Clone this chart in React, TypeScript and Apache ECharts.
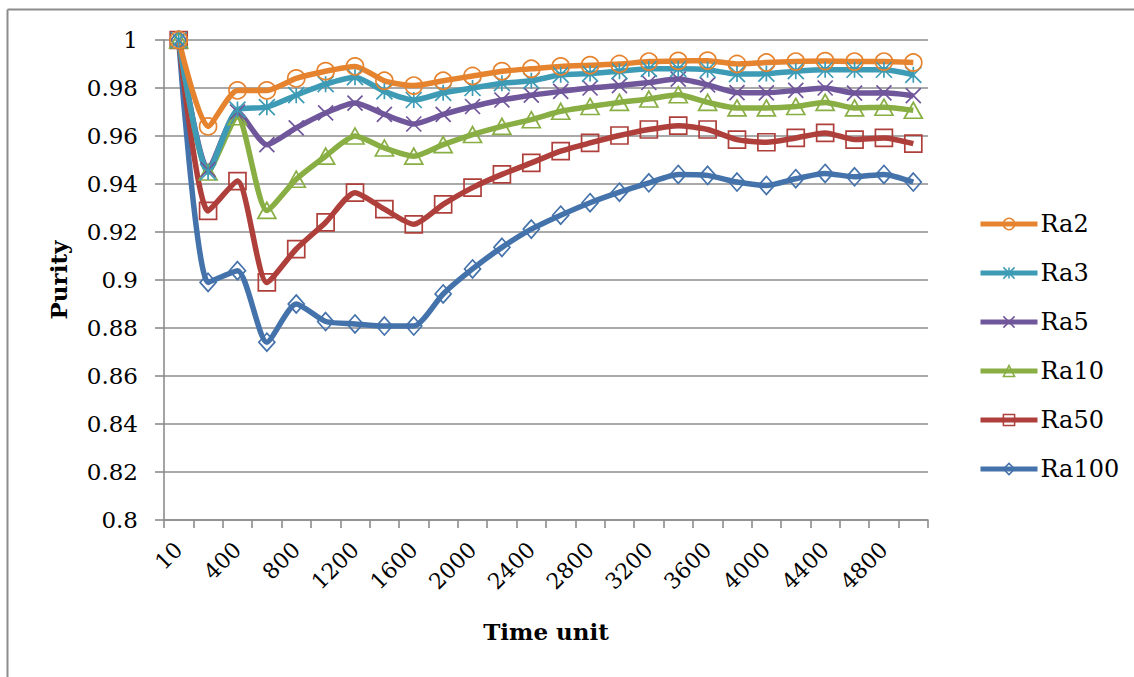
import React, { useEffect, useRef } from "react";
import * as echarts from "echarts";

const categories = ["10", "200", "400", "600", "800", "1000", "1200", "1400", "1600", "1800", "2000", "2200", "2400", "2600", "2800", "3000", "3200", "3400", "3600", "3800", "4000", "4200", "4400", "4600", "4800", "5000"];

const yTicksMin = 0.8;
const yTicksMax = 1;
const yTickStep = 0.02;

const ra2 = [1.0, 0.964, 0.979, 0.979, 0.984, 0.987, 0.989, 0.983, 0.981, 0.983, 0.985, 0.987, 0.988, 0.989, 0.9895, 0.990, 0.991, 0.9913, 0.9914, 0.990, 0.9906, 0.991, 0.9912, 0.991, 0.991, 0.9906];
const ra3 = [1.0, 0.945, 0.971, 0.972, 0.977, 0.9816, 0.9845, 0.9786, 0.975, 0.978, 0.980, 0.982, 0.983, 0.9855, 0.986, 0.987, 0.988, 0.988, 0.9876, 0.9858, 0.986, 0.987, 0.9876, 0.9876, 0.9876, 0.9855];
const ra5 = [1.0, 0.946, 0.970, 0.9564, 0.9634, 0.9696, 0.9737, 0.969, 0.965, 0.969, 0.9723, 0.975, 0.977, 0.9786, 0.980, 0.981, 0.9823, 0.9837, 0.9813, 0.9781, 0.978, 0.979, 0.980, 0.9779, 0.978, 0.9768];
const ra10 = [1.0, 0.945, 0.968, 0.929, 0.942, 0.9516, 0.960, 0.955, 0.9516, 0.9564, 0.9606, 0.964, 0.9668, 0.9703, 0.9723, 0.974, 0.9754, 0.9772, 0.974, 0.9717, 0.9717, 0.9723, 0.974, 0.9717, 0.972, 0.9707];
const ra50 = [1.0, 0.9288, 0.9412, 0.899, 0.9129, 0.924, 0.9364, 0.9295, 0.9232, 0.9315, 0.9385, 0.944, 0.9488, 0.9537, 0.9571, 0.9602, 0.9627, 0.9643, 0.9627, 0.9585, 0.9574, 0.9592, 0.9613, 0.9585, 0.9592, 0.9568];
const ra100 = [1.0, 0.899, 0.9039, 0.8741, 0.890, 0.8827, 0.8817, 0.8808, 0.8808, 0.8942, 0.9046, 0.9136, 0.9212, 0.927, 0.9322, 0.9366, 0.9405, 0.944, 0.9436, 0.9408, 0.9394, 0.9422, 0.9444, 0.943, 0.944, 0.9408];

const seriesNames = ["Ra2", "Ra3", "Ra5", "Ra10", "Ra50", "Ra100"];

const FONT = "DejaVu Serif";
const GRID_COLOR = "#8C8C8C";

export default function App() {
  const ref = useRef<HTMLDivElement>(null);

  useEffect(() => {
    if (!ref.current) return;
    const chart = echarts.init(ref.current, null, { renderer: "svg" });

    const mk = (name: string, data: number[], color: string, symbol: string, size: any) => ({
      name,
      type: "line",
      data,
      smooth: 0.22,
      symbol,
      symbolSize: size,
      showAllSymbol: true,
      lineStyle: { color, width: 5.5 },
      itemStyle: { color: "rgba(255,255,255,0)", borderColor: color, borderWidth: 1.7 },
      emphasis: { disabled: true },
    });

    const option: any = {
      animation: false,
      backgroundColor: "#ffffff",
      grid: { left: 164, right: 206, top: 40, bottom: 157, containLabel: false },
      legend: {
        orient: "vertical",
        left: 973,
        top: 207,
        itemWidth: 57,
        itemHeight: 14,
        itemGap: 25,
        data: seriesNames,
        lineStyle: { width: 5 },
        itemStyle: { borderWidth: 1.5 },
        textStyle: { fontFamily: FONT, fontSize: 24, color: "#000", padding: [0, 0, 0, -2] },
      },
      xAxis: {
        type: "category",
        data: categories,
        boundaryGap: true,
        name: "Time unit",
        nameLocation: "middle",
        nameGap: 100,
        nameTextStyle: { fontFamily: FONT, fontSize: 23, fontWeight: "bold", color: "#000" },
        axisLine: { lineStyle: { color: GRID_COLOR, width: 1.6 } },
        axisTick: { show: true, interval: 0, length: 8, lineStyle: { color: GRID_COLOR, width: 1.6 } },
        axisLabel: {
          interval: 1,
          rotate: 45,
          margin: 26,
          fontFamily: FONT,
          fontSize: 22,
          color: "#000",
        },
        splitLine: { show: false },
      },
      yAxis: {
        type: "value",
        min: yTicksMin,
        max: yTicksMax,
        interval: yTickStep,
        name: "Purity",
        nameLocation: "middle",
        nameGap: 94,
        nameTextStyle: { fontFamily: FONT, fontSize: 23, fontWeight: "bold", color: "#000" },
        axisLine: { show: true, lineStyle: { color: GRID_COLOR, width: 1.6 } },
        axisTick: { show: true, length: 9, lineStyle: { color: GRID_COLOR, width: 1.6 } },
        axisLabel: {
          margin: 26,
          fontFamily: FONT,
          fontSize: 23,
          color: "#000",
          formatter: (v: number) => String(parseFloat(v.toFixed(2))),
        },
        splitLine: { show: true, lineStyle: { color: GRID_COLOR, width: 1.6 } },
      },
      graphic: [
        { type: "line", shape: { x1: 7.5, y1: 9.5, x2: 1134, y2: 9.5 }, style: { stroke: GRID_COLOR, lineWidth: 2 } },
        { type: "line", shape: { x1: 7.5, y1: 9.5, x2: 7.5, y2: 677 }, style: { stroke: GRID_COLOR, lineWidth: 2 } },
      ],
      series: [
        mk("Ra100", ra100, "#4472AB", "diamond", [16, 18]),
        mk("Ra50", ra50, "#AE3F3B", "rect", 17),
        mk("Ra10", ra10, "#88AE44", "triangle", [18, 16]),
        mk("Ra5", ra5, "#70569A", "path://M0 0L10 10M10 0L0 10", 15),
        mk("Ra3", ra3, "#3D9BB5", "path://M5 0L5 10M0 0L10 10M10 0L0 10", 16),
        mk("Ra2", ra2, "#E6832F", "circle", 17),
      ],
    };

    chart.setOption(option);
    return () => chart.dispose();
  }, []);

  return (
    <div
      ref={ref}
      style={{ position: "fixed", left: 0, top: 0, width: 1134, height: 677, background: "#fff" }}
    />
  );
}
